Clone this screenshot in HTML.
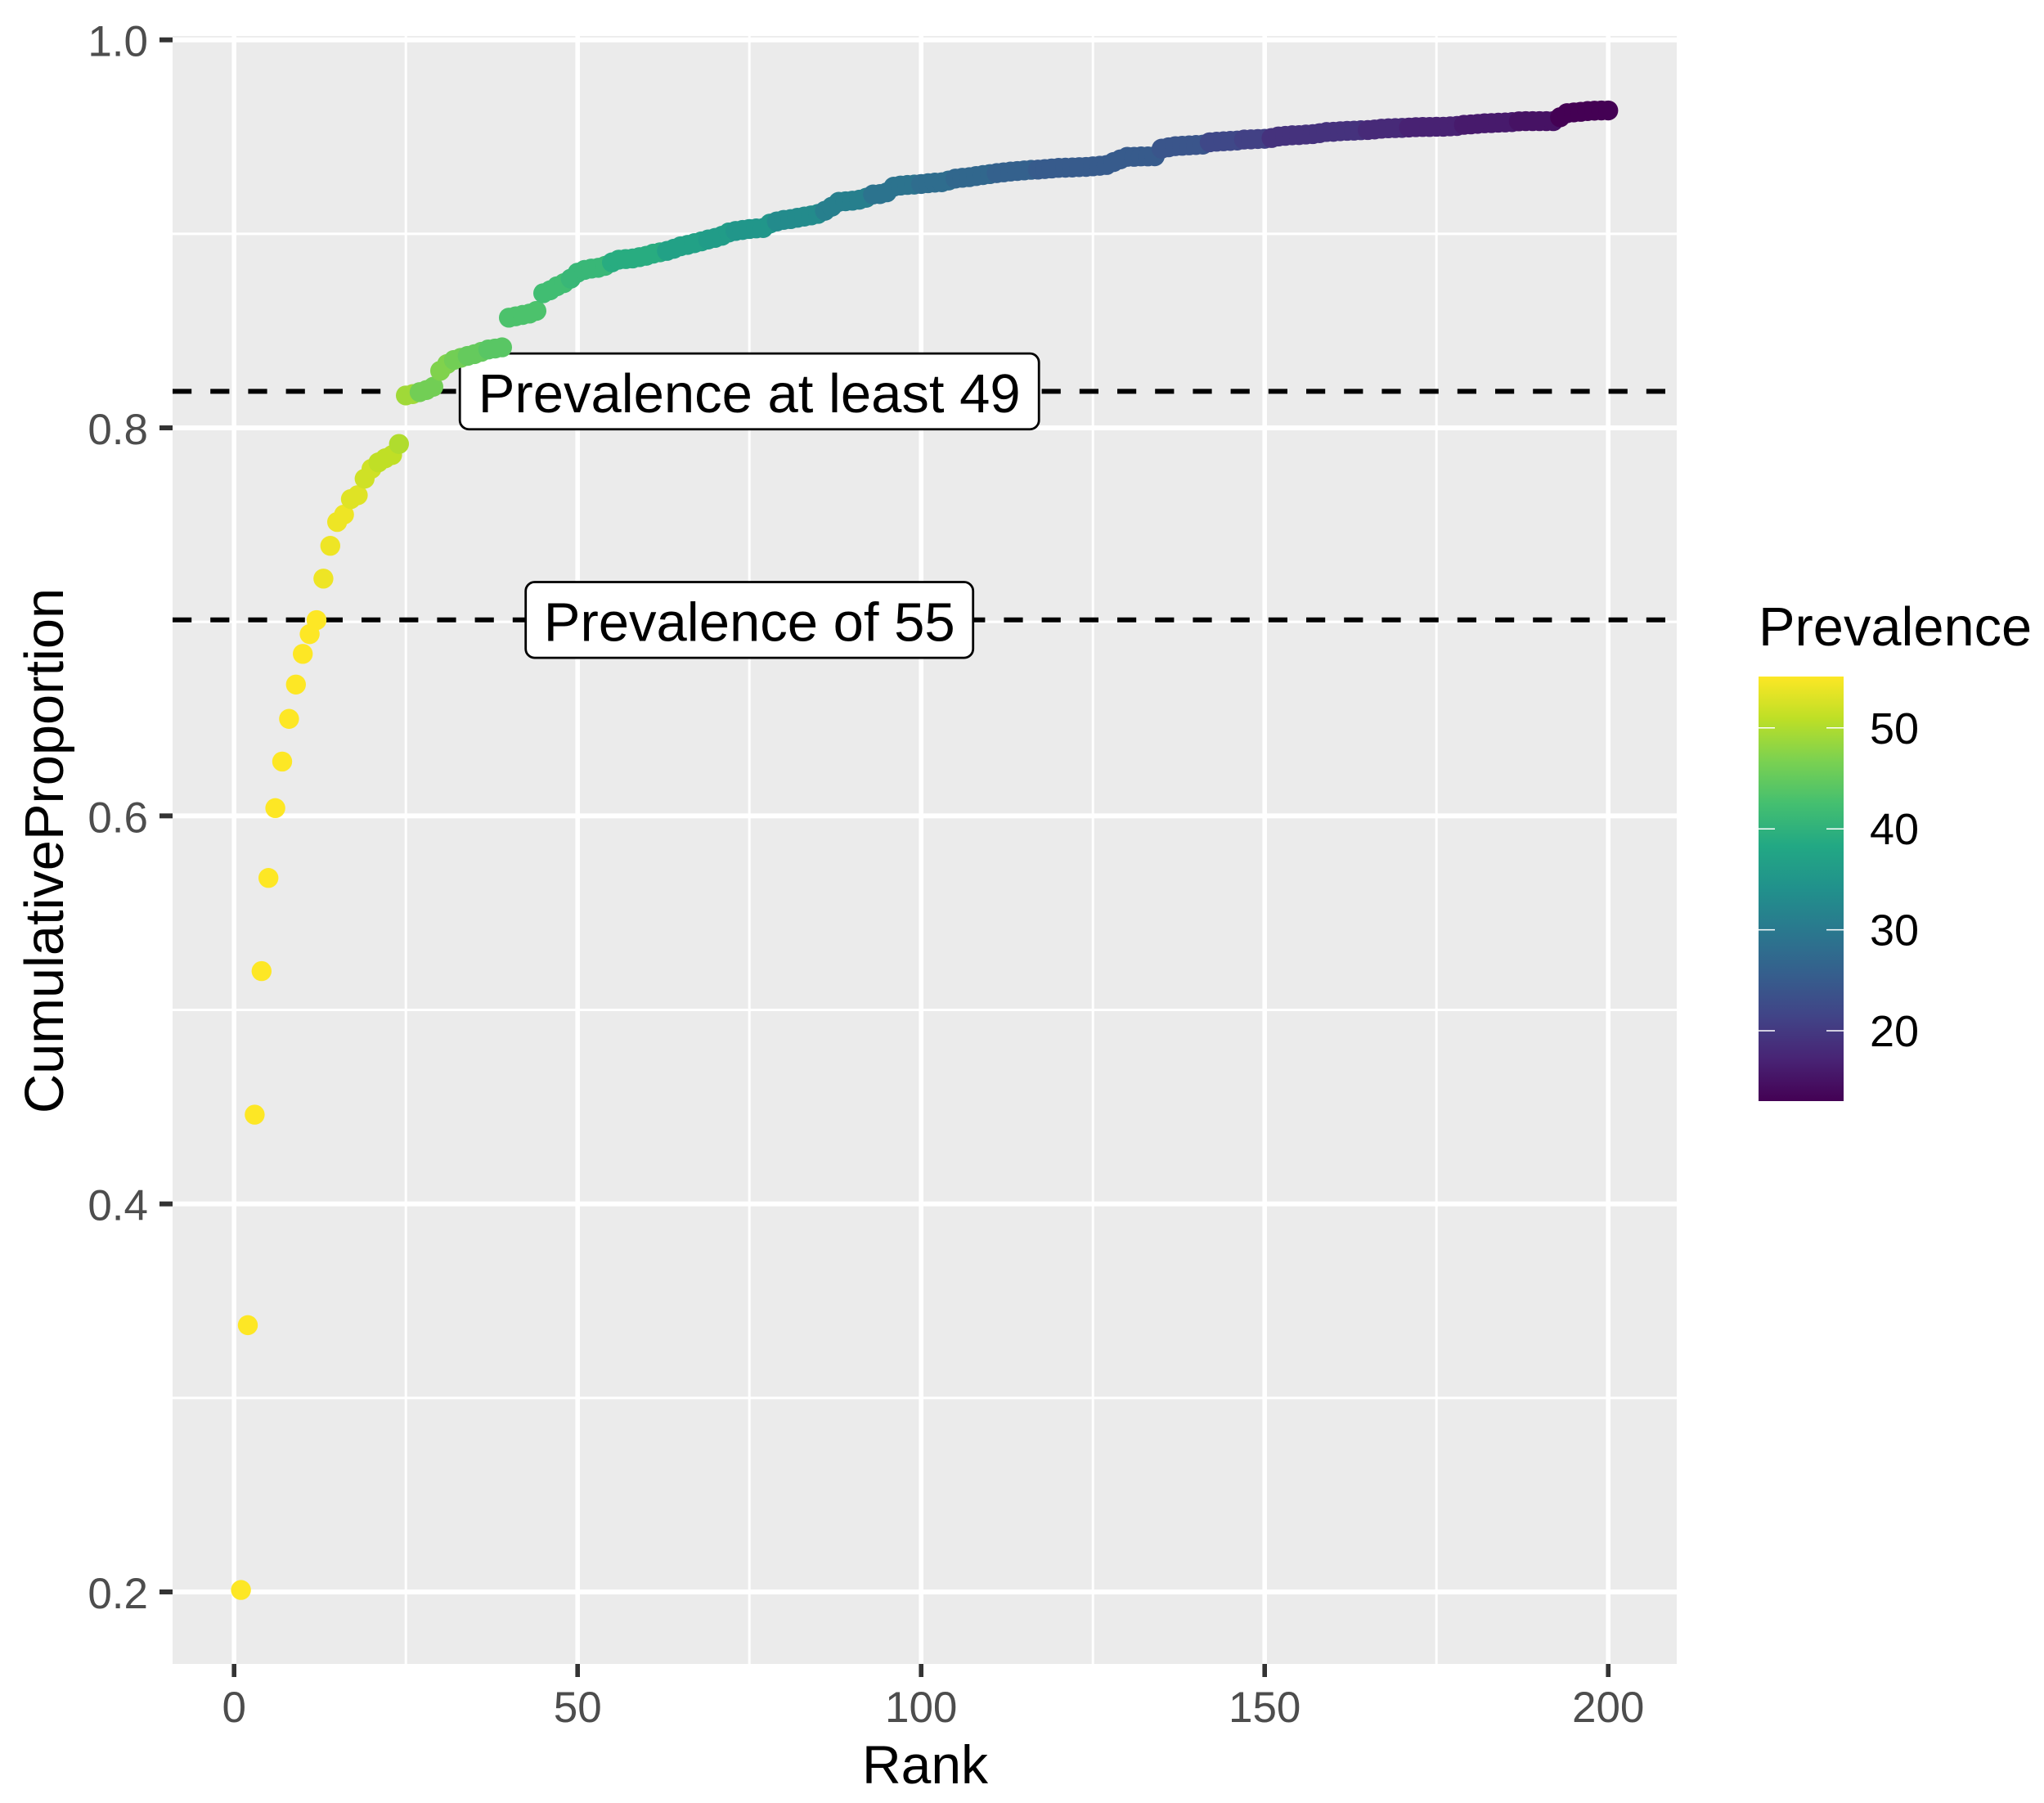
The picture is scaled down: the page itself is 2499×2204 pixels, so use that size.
<!DOCTYPE html>
<html>
<head>
<meta charset="utf-8">
<title>Cumulative proportion by rank</title>
<style>
html,body{margin:0;padding:0;background:#fff;width:2499px;height:2204px;overflow:hidden}
svg{display:block}
text{font-family:"Liberation Sans",Arial,sans-serif}
</style>
</head>
<body>
<svg id="chart" xmlns="http://www.w3.org/2000/svg" width="2499" height="2204" viewBox="0 0 2499 2204">
  <defs>
    <linearGradient id="legend-gradient" x1="0" y1="1" x2="0" y2="0"></linearGradient>
  </defs>
  <rect x="0" y="0" width="2499" height="2204" fill="#ffffff"/>
  <rect x="211" y="44" width="1839" height="1990" fill="#ebebeb"/>
  <g id="grid"></g>
  <g id="hlines"></g>
  <g id="labels"></g>
  <g id="points"></g>
  <g id="axes"></g>
  <text x="1131" y="2180" font-size="66" text-anchor="middle" fill="#000">Rank</text>
  <text transform="translate(77,1040) rotate(-90)" font-size="66.8" text-anchor="middle" fill="#000">CumulativeProportion</text>
  <g id="legend">
    <text x="2150" y="789" font-size="66.8" fill="#000">Prevalence</text>
    <rect x="2150" y="827" width="104" height="519" fill="url(#legend-gradient)"/>
  </g>
</svg>
<script>
const cumulativeProportion = [
.201,.3375,.446,.520,.568,.604,.628,.650,.6677,.6835,
.6937,.7009,.7223,.7392,.7515,.7553,.7633,.7653,.7738,.7789,
.7822,.7843,.786,.7917,.8167,.8174,.8184,.8195,.8212,.8294,
.8329,.835,.8361,.8371,.838,.8392,.8404,.8409,.8415,.8568,
.8575,.8582,.8589,.8603,.8694,.8709,.873,.8746,.8769,.88,
.8814,.8821,.8825,.8835,.8853,.8867,.887,.8873,.888,.8887,
.8898,.8905,.8912,.8923,.8936,.8943,.8952,.8961,.8971,.8979,
.899,.9007,.9015,.902,.9025,.9028,.903,.9053,.9064,.9072,
.9076,.9083,.9089,.9095,.9103,.9119,.914,.9165,.9168,.9171,
.9176,.9186,.9203,.9205,.9214,.9243,.9249,.9252,.9254,.9257,
.9261,.9264,.9266,.9275,.9285,.9289,.9292,.9298,.9303,.9308,
.9313,.9317,.9321,.9324,.9327,.933,.9331,.9334,.9337,.934,
.9341,.9342,.9344,.9345,.9348,.9351,.9355,.937,.9384,.9397,
.9397,.9399,.9399,.94,.9439,.9446,.9452,.9454,.9456,.9458,
.946,.9472,.9475,.9477,.9479,.9481,.9486,.9487,.9489,.949,
.9494,.9502,.9505,.9508,.9509,.9512,.9514,.9519,.9525,.9526,
.9529,.9531,.9532,.9534,.9535,.9538,.9542,.9544,.9545,.9546,
.9548,.955,.9551,.9551,.9552,.9552,.9554,.9556,.9562,.9564,
.9567,.957,.9571,.9573,.9574,.9576,.958,.9581,.9581,.9581,
.9581,.9581,.9601,.9622,.9626,.9629,.9633,.9635,.9636,.9636
];
const prevalence = [
55,55,55,55,55,55,55,55,55,55,
55,55,54,54,54,54,53,53,52,52,
51,51,51,50,49,49,46,46,46,47,
47,46,46,45,45,45,44,44,44,43,
43,43,43,43,42,42,42,42,41,41,
41,41,41,41,39,39,39,39,39,39,
39,39,37,37,37,37,37,37,36,36,
36,36,35,35,35,35,35,35,33,33,
33,33,33,33,33,31,31,31,31,31,
31,31,29,29,29,29,29,29,29,28,
28,28,28,28,27,27,27,27,27,27,
26,26,26,26,26,26,25,25,25,25,
25,25,25,25,25,25,25,25,25,25,
25,25,25,25,24,24,24,24,24,24,
24,22,22,22,22,22,21,21,21,21,
19,19,19,19,19,19,19,19,19,19,
19,19,19,19,18,18,18,18,18,18,
17,17,17,17,17,17,17,17,16,16,
16,16,16,16,16,16,15,15,15,15,
15,15,13,13,13,13,13,13,13,13
];
const xMajorTicks = [0, 50, 100, 150, 200];
const xMinorTicks = [25, 75, 125, 175];
const yMajorTicks = [0.2, 0.4, 0.6, 0.8, 1.0];
const yMinorTicks = [0.3, 0.5, 0.7, 0.9];
const yTickLabels = ["0.2", "0.4", "0.6", "0.8", "1.0"];
const xTickLabels = ["0", "50", "100", "150", "200"];
const thresholds = [0.701, 0.8188];
const thresholdLabels = ["Prevalence of 55", "Prevalence at least 49"];
const thresholdLabelRank = [75, 75];
const legendTicks = [20, 30, 40, 50];
const legendTickLabels = ["20", "30", "40", "50"];
const prevalenceMin = 13;
const prevalenceMax = 55;
const viridis = ["#440154","#482475","#414487","#355f8d","#2a788e","#21918c","#22a884","#44bf70","#7ad151","#bddf26","#fde725"];

const SVGNS = "http://www.w3.org/2000/svg";
const xScale = v => 286.2 + v * 8.4;
const yScale = v => 48.7 + (1 - v) * 2371.6;
const legendScale = v => 1260 - (v - 20) * 12.34;

function hexToRgb(h) {
  return [parseInt(h.slice(1,3),16), parseInt(h.slice(3,5),16), parseInt(h.slice(5,7),16)];
}
function colorFor(p) {
  const t = Math.max(0, Math.min(1, (p - prevalenceMin) / (prevalenceMax - prevalenceMin)));
  const f = t * (viridis.length - 1);
  const i = Math.min(viridis.length - 2, Math.floor(f));
  const a = hexToRgb(viridis[i]);
  const b = hexToRgb(viridis[i + 1]);
  const k = f - i;
  return "rgb(" + a.map((c, j) => Math.round(c + (b[j] - c) * k)).join(",") + ")";
}
function make(tag, parent, attrs) {
  const el = document.createElementNS(SVGNS, tag);
  for (const key in attrs) el.setAttribute(key, attrs[key]);
  parent.appendChild(el);
  return el;
}

const grid = document.getElementById("grid");
const hlines = document.getElementById("hlines");
const labels = document.getElementById("labels");
const pointsGroup = document.getElementById("points");
const axes = document.getElementById("axes");
const legend = document.getElementById("legend");
const gradient = document.getElementById("legend-gradient");

viridis.forEach((c, i) => {
  make("stop", gradient, {offset: (i / (viridis.length - 1)), "stop-color": c});
});

yMinorTicks.forEach(v => {
  const el = make("line", grid, {x1: 211, x2: 2050, y1: yScale(v), y2: yScale(v), stroke: "#fff", "stroke-width": 3});
  
  
});
xMinorTicks.forEach(v => {
  const el = make("line", grid, {x1: xScale(v), x2: xScale(v), y1: 44, y2: 2034, stroke: "#fff", "stroke-width": 3});
  
  
});
yMajorTicks.forEach(v => {
  const el = make("line", grid, {x1: 211, x2: 2050, y1: yScale(v), y2: yScale(v), stroke: "#fff", "stroke-width": 6});
  
  
});
xMajorTicks.forEach(v => {
  const el = make("line", grid, {x1: xScale(v), x2: xScale(v), y1: 44, y2: 2034, stroke: "#fff", "stroke-width": 5.6});
  
  
});

thresholds.forEach(v => {
  const el = make("line", hlines, {x1: 211, x2: 2050, y1: yScale(v), y2: yScale(v), stroke: "#000", "stroke-width": 6, "stroke-dasharray": "23.2 23"});
  
  
});

const labelWidths = [547, 708];
thresholdLabels.forEach((txt, i) => {
  const cx = xScale(thresholdLabelRank[i]);
  const cy = yScale(thresholds[i]);
  const w = labelWidths[i];
  const box = make("rect", labels, {x: cx - w / 2, y: cy - 46.3, width: w, height: 92.6, rx: 11, ry: 11, fill: "#fff", stroke: "#000", "stroke-width": 2.8});
  
  
  const t = make("text", labels, {x: cx, y: cy + 25.5, "font-size": 67, "text-anchor": "middle", fill: "#000"});
  t.textContent = txt;
  
  
});

cumulativeProportion.forEach((v, i) => {
  const c = make("circle", pointsGroup, {cx: xScale(i + 1), cy: yScale(v), r: 12.2, fill: colorFor(prevalence[i])});
  
  
});

yMajorTicks.forEach((v, i) => {
  const tick = make("line", axes, {x1: 195, x2: 211, y1: yScale(v), y2: yScale(v), stroke: "#333", "stroke-width": 6});
  
  
  const t = make("text", axes, {x: 181, y: yScale(v) + 20, "font-size": 53, "text-anchor": "end", fill: "#4d4d4d"});
  t.textContent = yTickLabels[i];
  
  
});
xMajorTicks.forEach((v, i) => {
  const tick = make("line", axes, {x1: xScale(v), x2: xScale(v), y1: 2034, y2: 2050, stroke: "#333", "stroke-width": 5.6});
  
  
  const t = make("text", axes, {x: xScale(v), y: 2105, "font-size": 53, "text-anchor": "middle", fill: "#4d4d4d"});
  t.textContent = xTickLabels[i];
  
  
});

legendTicks.forEach((v, i) => {
  const y = legendScale(v);
  const left = make("line", legend, {x1: 2150, x2: 2170, y1: y, y2: y, stroke: "#fff", "stroke-width": 1.5});
  
  
  const right = make("line", legend, {x1: 2233, x2: 2254, y1: y, y2: y, stroke: "#fff", "stroke-width": 1.5});
  
  
  const t = make("text", legend, {x: 2286, y: y + 19, "font-size": 54, fill: "#000"});
  t.textContent = legendTickLabels[i];
  
  
});
</script>
</body>
</html>
